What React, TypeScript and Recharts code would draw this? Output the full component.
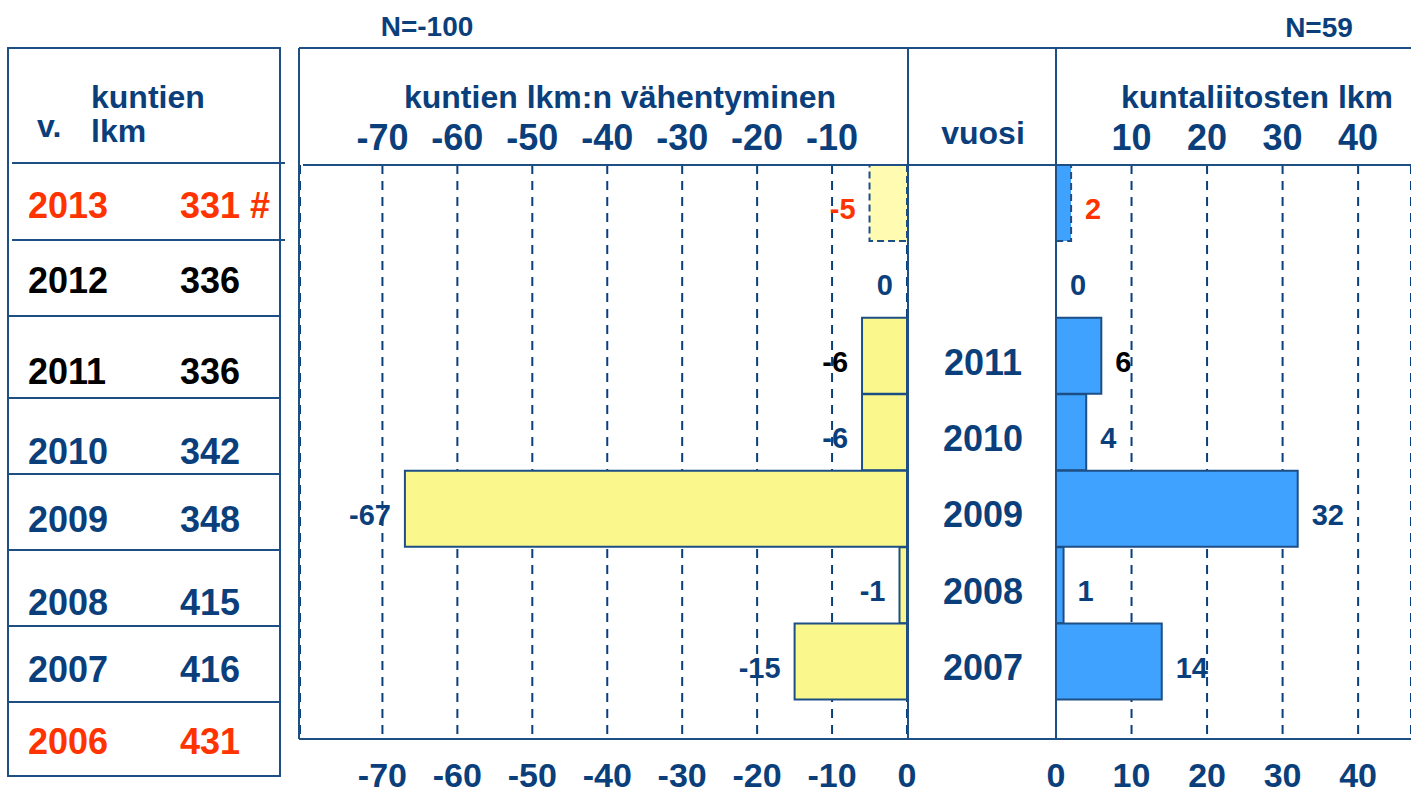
import { BarChart, Bar, XAxis, YAxis, CartesianGrid, Cell, LabelList } from 'recharts';

// years shown in the two bar panels (top to bottom)
const years = ['2013', '2012', '2011', '2010', '2009', '2008', '2007'];
const decrease = [-5, 0, -6, -6, -67, -1, -15];
const mergers = [2, 0, 6, 4, 32, 1, 14];
const vuosiYears = ['2011', '2010', '2009', '2008', '2007'];

// left table
const tableYears = ['2013', '2012', '2011', '2010', '2009', '2008', '2007', '2006'];
const tableCounts = ['331 #', '336', '336', '342', '348', '415', '416', '431'];

const leftTopTicks = [-70, -60, -50, -40, -30, -20, -10];
const leftBottomTicks = [-70, -60, -50, -40, -30, -20, -10, 0];
const rightTopTicks = [10, 20, 30, 40];
const rightBottomTicks = [0, 10, 20, 30, 40];

const FONT = '"Liberation Sans", Arial, sans-serif';
const BLUE = '#0b3f7b';
const RED = '#ff3300';
const BLACK = '#000000';
const LINE = '#1d4f85';

const rows = years.map((year, i) => ({ year, decrease: decrease[i], mergers: mergers[i] }));

const labelColor = (y: string) => (y === '2013' ? RED : y === '2011' ? BLACK : BLUE);
const tableColor = (y: string) =>
  y === '2013' || y === '2006' ? RED : y === '2012' || y === '2011' ? BLACK : BLUE;

// layout of the table rows (pixel positions of the slide)
const tableLines = [316, 398, 474, 550, 626, 702];
const tableTextY = [205, 280, 371, 451, 519, 602, 669, 741];

const tickStyle = { fill: BLUE, fontSize: 36, fontWeight: 'bold', fontFamily: FONT };
const bottomTickStyle = { fill: BLUE, fontSize: 34, fontWeight: 'bold', fontFamily: FONT };

// zero values still get a (hidden) 1px bar so their "0" label is drawn
const zeroSize = (value: any) => (Number(value) === 0 ? 1 : 0);

function box(props: any) {
  const vb = props.viewBox || {};
  const x = Number(vb.x ?? props.x);
  const y = Number(vb.y ?? props.y);
  const w = Number(vb.width ?? props.width);
  const h = Number(vb.height ?? props.height);
  return { x, y, w, h };
}

function rowYear(props: any, h: number, y: number) {
  // find row from the bar's vertical position rather than trusting index
  const idx = typeof props.index === 'number' ? props.index : 0;
  return years[idx] ?? years[0];
}

function LeftLabel(props: any) {
  const { x, y, w, h } = box(props);
  const left = Number(props.value) === 0 ? x : Math.min(x, x + w);
  return (
    <text x={left - 14} y={y + h / 2 + 6} textAnchor="end" dominantBaseline="central"
      fill={labelColor(rowYear(props, h, y))} fontSize={29} fontWeight="bold" fontFamily={FONT}>
      {props.value}
    </text>
  );
}

function RightLabel(props: any) {
  const { x, y, w, h } = box(props);
  const right = Number(props.value) === 0 ? x : Math.max(x, x + w);
  return (
    <text x={right + 14} y={y + h / 2 + 6} textAnchor="start" dominantBaseline="central"
      fill={labelColor(rowYear(props, h, y))} fontSize={29} fontWeight="bold" fontFamily={FONT}>
      {props.value}
    </text>
  );
}

function VuosiTick(props: any) {
  const { x, y, payload } = props;
  if (!vuosiYears.includes(payload.value)) return null;
  return (
    <text x={Number(x) - 73} y={Number(y) + 6} textAnchor="middle" dominantBaseline="central"
      fill={BLUE} fontSize={36} fontWeight="bold" fontFamily={FONT}>
      {payload.value}
    </text>
  );
}

export default function App() {
  return (
    <div style={{ position: 'absolute', left: 0, top: 0, width: 1411, height: 795, background: '#fff', fontFamily: FONT }}>
      <div style={{ position: 'absolute', left: 0, top: 0 }}>
        <BarChart layout="vertical" width={1411} height={795} data={rows}
          margin={{ top: 125, right: 504, bottom: 16, left: 300 }} barCategoryGap={0}>
          <CartesianGrid xAxisId="top" horizontal={false} stroke={BLUE} strokeWidth={2} strokeDasharray="9 7" />
          <XAxis xAxisId="top" orientation="top" type="number" domain={[-81, 0]} allowDataOverflow
            ticks={leftTopTicks} height={40} axisLine={false} tickLine={false} tickSize={0} tickMargin={15}
            tick={tickStyle} interval={0} />
          <XAxis xAxisId="bottom" orientation="bottom" type="number" domain={[-81, 0]} allowDataOverflow
            ticks={leftBottomTicks} height={40} axisLine={false} tickLine={false} tickSize={0} tickMargin={24}
            tick={bottomTickStyle} interval={0} />
          <YAxis type="category" dataKey="year" hide padding={{ top: 0, bottom: 39 }} />
          <Bar xAxisId="top" dataKey="decrease" fill="#faf78c" stroke={LINE} strokeWidth={2}
            minPointSize={zeroSize} isAnimationActive={false}>
            {rows.map((r, i) => (
              <Cell key={`l-${i}`}
                fill={r.decrease === 0 ? 'transparent' : r.year === '2013' ? '#fffcb2' : '#faf78c'}
                stroke={r.decrease === 0 ? 'none' : LINE}
                strokeDasharray={r.year === '2013' ? '7 4' : undefined} />
            ))}
            <LabelList dataKey="decrease" content={LeftLabel} />
          </Bar>
        </BarChart>
      </div>

      <div style={{ position: 'absolute', left: 0, top: 0 }}>
        <BarChart layout="vertical" width={1411} height={795} data={rows}
          margin={{ top: 125, right: 0, bottom: 16, left: 908 }} barCategoryGap={0}>
          <CartesianGrid xAxisId="top" horizontal={false} stroke={BLUE} strokeWidth={2} strokeDasharray="9 7" />
          <XAxis xAxisId="top" orientation="top" type="number" domain={[0, 47]} allowDataOverflow
            ticks={rightTopTicks} height={40} axisLine={false} tickLine={false} tickSize={0} tickMargin={15}
            tick={tickStyle} interval={0} />
          <XAxis xAxisId="bottom" orientation="bottom" type="number" domain={[0, 47]} allowDataOverflow
            ticks={rightBottomTicks} height={40} axisLine={false} tickLine={false} tickSize={0} tickMargin={24}
            tick={bottomTickStyle} interval={0} />
          <YAxis type="category" dataKey="year" width={148} axisLine={false} tickLine={false}
            tickSize={0} tickMargin={0} padding={{ top: 0, bottom: 39 }} tick={VuosiTick} interval={0} />
          <Bar xAxisId="top" dataKey="mergers" fill="#40a2ff" stroke={LINE} strokeWidth={2}
            minPointSize={zeroSize} isAnimationActive={false}>
            {rows.map((r, i) => (
              <Cell key={`r-${i}`} fill={r.mergers === 0 ? 'transparent' : '#40a2ff'}
                stroke={r.mergers === 0 ? 'none' : LINE}
                strokeDasharray={r.year === '2013' ? '7 4' : undefined} />
            ))}
            <LabelList dataKey="mergers" content={RightLabel} />
          </Bar>
        </BarChart>
      </div>

      <svg width={1411} height={795} style={{ position: 'absolute', left: 0, top: 0, pointerEvents: 'none' }}>
        <g stroke={LINE} strokeWidth={2} fill="none">
          {/* table frame */}
          <rect x={8} y={48} width={272} height={728} />
          <line x1={12} x2={285} y1={163} y2={163} />
          <line x1={12} x2={285} y1={240} y2={240} />
          {tableLines.map((y) => (
            <line key={y} x1={8} x2={280} y1={y} y2={y} />
          ))}
          {/* chart frame */}
          <line x1={299} x2={1411} y1={48} y2={48} />
          <line x1={299} x2={299} y1={48} y2={739} />
          <line x1={299} x2={1411} y1={739} y2={739} />
          <line x1={303} x2={1411} y1={165} y2={165} />
          <line x1={908} x2={908} y1={48} y2={739} />
          <line x1={1056} x2={1056} y1={48} y2={739} />
        </g>
        <g fontFamily={FONT} fontWeight="bold" fill={BLUE}>
          <text x={427} y={26} textAnchor="middle" dominantBaseline="central" fontSize={28}>N=-100</text>
          <text x={1319} y={27} textAnchor="middle" dominantBaseline="central" fontSize={28}>N=59</text>
          <text x={620} y={97} textAnchor="middle" dominantBaseline="central" fontSize={32}>kuntien lkm:n vähentyminen</text>
          <text x={1257} y={97} textAnchor="middle" dominantBaseline="central" fontSize={32}>kuntaliitosten lkm</text>
          <text x={983} y={133} textAnchor="middle" dominantBaseline="central" fontSize={32}>vuosi</text>
          <text x={91} y={97} dominantBaseline="central" fontSize={32}>kuntien</text>
          <text x={91} y={131} dominantBaseline="central" fontSize={32}>lkm</text>
          <text x={37} y={126} dominantBaseline="central" fontSize={32}>v.</text>
          {tableYears.map((y, i) => (
            <g key={y} fill={tableColor(y)} fontSize={36}>
              <text x={28} y={tableTextY[i]} dominantBaseline="central">{y}</text>
              <text x={180} y={tableTextY[i]} dominantBaseline="central">{tableCounts[i]}</text>
            </g>
          ))}
        </g>
      </svg>
    </div>
  );
}
